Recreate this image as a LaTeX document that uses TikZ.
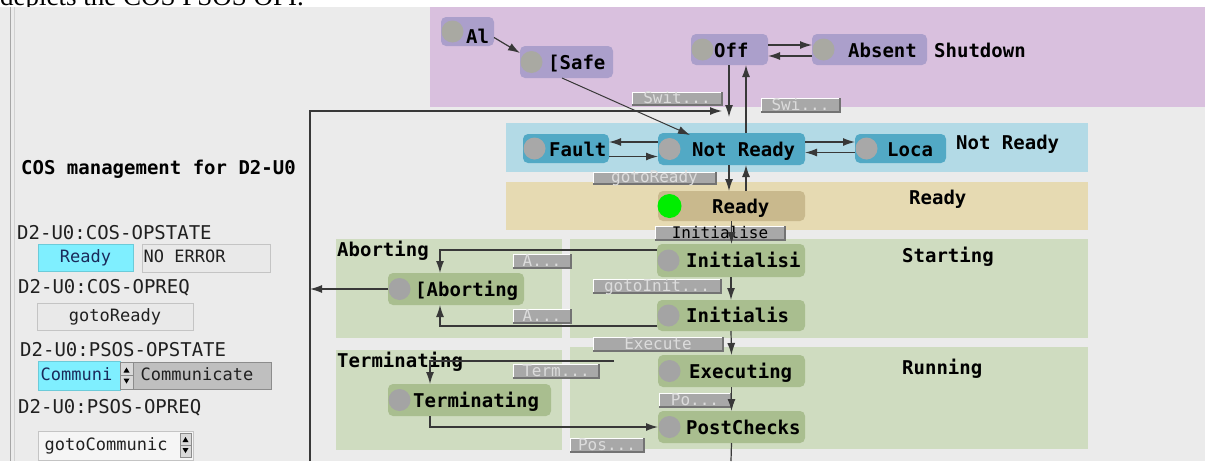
\documentclass[tikz,border=0pt]{standalone}
\usepackage{fontspec}
\setmonofont{DejaVu Sans Mono}
\newfontfamily\topserif{Liberation Serif}
\usetikzlibrary{arrows.meta}
\definecolor{bg}{HTML}{EBEBEB}
\definecolor{shreg}{HTML}{D9C0DE}
\definecolor{shnode}{HTML}{AB9FCB}
\definecolor{shcirc}{HTML}{A9A9A2}
\definecolor{nrreg}{HTML}{B3DAE6}
\definecolor{nrnode}{HTML}{52A9C5}
\definecolor{nrcirc}{HTML}{A8A8A8}
\definecolor{rdreg}{HTML}{E6DAB2}
\definecolor{rdnode}{HTML}{C9B98D}
\definecolor{gnreg}{HTML}{CFDCC0}
\definecolor{gnnode}{HTML}{A9BE8F}
\definecolor{gncirc}{HTML}{A4A4A4}
\definecolor{okgreen}{HTML}{00EE00}
\definecolor{cyanbox}{HTML}{7FEFFF}
\definecolor{btnfill}{HTML}{A8A8A8}
\definecolor{btntxt}{HTML}{DCDCDC}
\definecolor{lineclr}{HTML}{383838}
\definecolor{cellfill}{HTML}{E9E9E9}
\definecolor{cellborder}{HTML}{C4C4C4}
\definecolor{txtdark}{HTML}{202020}
\definecolor{navy}{HTML}{1A2A5A}
\newcommand\fbig{\ttfamily\bfseries\fontsize{19}{22}\selectfont}
\newcommand\freg{\ttfamily\fontsize{19}{22}\selectfont}
\newcommand\fcell{\ttfamily\fontsize{17}{20}\selectfont}
\newcommand\fbtn{\ttfamily\fontsize{16}{18}\selectfont}
% state box: name x1 y1 x2 y2 family textx baseline text
\newcommand\stbx[9]{%
  \node[stbox,#6,minimum width={(#4-#2)*1pt},minimum height={(#5-#3)*1pt}] (#1) at ({(#2+#4)/2},{(#3+#5)/2}) {};
  \fill[radius=11pt,#6-c] (#2+11.5,{(#3+#5)/2}) circle;
  \node[lbl] (#1-t) at (#7,#8) {#9};
}
% button: name x1 y1 x2 y2 text textcolor
\newcommand\btnx[7]{%
  \node[btnbox,minimum width={(#4-#2)*1pt},minimum height={(#5-#3)*1pt}] (#1) at ({(#2+#4)/2},{(#3+#5)/2}) {};
  \draw[white,line width=1pt] (#2,#5) -- (#2,#3) -- (#4,#3);
  \draw[black!55,line width=1.3pt] (#2,#5) -- (#4,#5) -- (#4,#3);
  \node[btntext,text=#7] (#1-t) at ({(#2+#4)/2},#5-1.5) {#6};
}
% spinner: name x1 y1 x2 y2
\newcommand\spinx[5]{%
  \node[draw=black!45,fill=black!15,inner sep=0pt,minimum width={(#4-#2)*1pt},minimum height={(#5-#3)*1pt}] (#1) at ({(#2+#4)/2},{(#3+#5)/2}) {};
  \draw[black!45,line width=0.6pt] (#2,{(#3+#5)/2}) -- (#4,{(#3+#5)/2});
  \fill[black] ({(#2+#4)/2-3},{(#3+#5)/2-3}) -- ({(#2+#4)/2+3},{(#3+#5)/2-3}) -- ({(#2+#4)/2},{(#3+#5)/2-8}) -- cycle;
  \fill[black] ({(#2+#4)/2-3},{(#3+#5)/2+3}) -- ({(#2+#4)/2+3},{(#3+#5)/2+3}) -- ({(#2+#4)/2},{(#3+#5)/2+8}) -- cycle;
}
\begin{document}
\begin{tikzpicture}[x=1pt,y=-1pt,
  arr/.style={draw=lineclr,line width=1.2pt,-{Latex[length=12pt,width=8pt]}},
  stbox/.style={rounded corners=5pt,inner sep=0pt,outer sep=0pt,draw=none},
  sh/.style={fill=shnode}, sh-c/.style={fill=shcirc},
  nrs/.style={fill=nrnode}, nrs-c/.style={fill=nrcirc},
  rd/.style={fill=rdnode}, rd-c/.style={fill=okgreen,radius=12pt},
  gn/.style={fill=gnnode}, gn-c/.style={fill=gncirc},
  lbl/.style={font=\fbig,text=black,inner sep=0pt,anchor=base west},
  plain/.style={font=\freg,text=txtdark,inner sep=0pt,anchor=base west},
  celltxt/.style={font=\fcell,inner sep=0pt,text height=12pt,text depth=3pt},
  cellbox/.style={inner sep=0pt,line width=1pt},
  btnbox/.style={fill=btnfill,inner sep=0pt,draw=none},
  btntext/.style={font=\fbtn,inner sep=0pt,anchor=base}]
\useasboundingbox (0,0) rectangle (1205,461);
\clip (0,0) rectangle (1205,461);
% top strip with cut caption
\fill[white] (0,0) rectangle (1205,7);
\node[font=\topserif\fontsize{27}{30}\selectfont,anchor=base west,inner sep=0pt] (cap) at (0,5.5) {depicts the COS PSOS OPI.};
\fill[bg] (0,7) rectangle (1205,461);
\draw[black!35,line width=1pt] (10,7) -- (10,461);
\draw[black!18,line width=1pt] (14.5,7) -- (14.5,461);
% regions
\fill[shreg] (430,7) rectangle (1205,107);
\fill[nrreg] (506,123) rectangle (1088,172);
\fill[rdreg] (506,182) rectangle (1088,230);
\fill[gnreg] (336,239) rectangle (562,338);
\fill[gnreg] (570,239) rectangle (1088,338);
\fill[gnreg] (336,350) rectangle (562,450);
\fill[gnreg] (570,347) rectangle (1088,449);
% region labels
\node[lbl] (lab-sh) at (934,57) {Shutdown};
\node[lbl] (lab-nr) at (956,149) {Not Ready};
\node[lbl] (lab-rd) at (909,204) {Ready};
\node[lbl] (lab-ab) at (337,256) {Aborting};
\node[lbl] (lab-st) at (902,262) {Starting};
\node[lbl] (lab-te) at (337,367) {Terminating};
\node[lbl] (lab-ru) at (902,374) {Running};
% buttons
\btnx{b-swit}{632}{92}{722}{105}{Swit...}{btntxt}
\btnx{b-swi}{761}{98}{840}{112}{Swi...}{btntxt}
\btnx{b-gotoready}{593}{172}{716}{184}{gotoReady}{btntxt}
\btnx{b-init}{655}{226}{785}{240}{Initialise}{black}
\btnx{b-a1}{513}{254}{571}{268}{A...}{btntxt}
\btnx{b-gotoinit}{593}{279}{721}{293}{gotoInit...}{btntxt}
\btnx{b-a2}{513}{309}{571}{323}{A...}{btntxt}
\btnx{b-exec}{593}{337}{723}{351}{Execute}{btntxt}
\btnx{b-term}{513}{364}{599}{378}{Term...}{btntxt}
\btnx{b-po}{659}{393}{731}{407}{Po...}{btntxt}
\btnx{b-pos}{570}{438}{644}{452}{Pos...}{btntxt}
% states
\stbx{al}{441}{17}{494}{46}{sh}{466}{43}{Al}
\stbx{safe}{520}{46}{613}{78}{sh}{548}{69}{[Safe}
\stbx{off}{691}{34}{768}{65}{sh}{714}{57}{Off}
\stbx{absent}{812}{34}{927}{65}{sh}{848}{57}{Absent}
\stbx{fault}{523}{134}{609}{163}{nrs}{549}{156}{Fault}
\stbx{nr}{658}{133}{805}{165}{nrs}{692}{156}{Not Ready}
\stbx{loca}{855}{134}{946}{163}{nrs}{887}{156}{Loca}
\stbx{ready}{658}{191}{805}{221}{rd}{712}{213}{Ready}
\stbx{ini1}{657}{244}{805}{277}{gn}{686}{267}{Initialisi}
\stbx{ini2}{657}{300}{805}{331}{gn}{686}{322}{Initialis}
\stbx{ab}{388}{273}{524}{305}{gn}{415}{296}{[Aborting}
\stbx{exe}{658}{355}{805}{387}{gn}{689}{378}{Executing}
\stbx{post}{658}{411}{805}{443}{gn}{686}{434}{PostChecks}
\stbx{term}{388}{384}{551}{416}{gn}{413}{407}{Terminating}
% free ends
\coordinate (offin) at (729,117);
\coordinate (busb) at (310,461);
\coordinate (busc) at (310,111);
\coordinate (busin) at (722,111);
\coordinate (postout) at (731,461);
\coordinate (termin) at (614,361);
% connectors
\draw[arr] ([yshift=-6pt]al.east) -- ([yshift=9pt]safe.west);
\draw[arr] ([yshift=4.5pt]off.east) -- ([yshift=4.5pt]off.east -| absent.west);
\draw[arr] ([yshift=-6.5pt]absent.west) -- ([yshift=-6.5pt]absent.west -| off.east);
\draw[arr] ([xshift=-0.5pt]off.south) -- (offin);
\draw[arr] ([xshift=14.5pt]nr.north) -- ([xshift=14.5pt]nr.north |- off.south);
\draw[arr,line width=1pt] ([xshift=-4.5pt]safe.south) -- ([xshift=-41.5pt,yshift=-2pt]nr.north);
\draw[arr] (busb) -- (busc) -- (busin);
\draw[arr] ([yshift=7pt]nr.west) -- ([yshift=7pt]nr.west -| fault.east);
\draw[arr] ([yshift=-8pt]fault.east) -- ([yshift=-8pt]fault.east -| nr.west);
\draw[arr] ([yshift=7pt]nr.east) -- ([yshift=7pt]nr.east -| loca.west);
\draw[arr] ([yshift=-4pt]loca.west) -- ([yshift=-4pt]loca.west -| nr.east);
\draw[arr] ([xshift=-2.5pt]nr.south) -- ([xshift=-2.5pt]nr.south |- ready.north);
\draw[arr] ([xshift=14.5pt]ready.north) -- ([xshift=14.5pt]ready.north |- nr.south);
\draw[arr] (ready.south) -- (ready.south |- ini1.north);
\draw[arr] (ini1.south) -- (ini2.north);
\draw[arr] (ini2.south) -- (exe.north);
\draw[arr] (exe.south) -- (post.north);
\draw[draw=lineclr,line width=1.2pt] (post.south) -- (postout);
\draw[arr] ([yshift=10.5pt]ini1.west) -| ([xshift=-16pt]ab.north);
\draw[arr] ([yshift=-10.5pt]ini2.west) -| ([xshift=-16pt]ab.south);
\draw[arr] (ab.west) -- (ab.west -| busc);
\draw[arr] (termin) -| ([xshift=-39.5pt]term.north);
\draw[arr] ([xshift=-39.5pt]term.south) |- (post.west);
% left panel
\node[lbl] (title) at (21,174) {COS management for D2-U0};
\node[plain] (p1) at (17,239) {D2-U0:COS-OPSTATE};
\node[cellbox,fill=cyanbox,draw=cyanbox!85!black,minimum width=95pt,minimum height=27pt] (c-ready) at (85.5,257.5) {};
\node[celltxt,text=navy] (c-ready-t) at (c-ready) {Ready};
\node[cellbox,fill=cellfill,draw=cellborder,minimum width=128pt,minimum height=28pt] (c-err) at (206,258) {};
\node[celltxt,text=txtdark,anchor=west] (c-err-t) at ([xshift=2pt]c-err.west) {NO ERROR};
\node[plain] (p2) at (18,293) {D2-U0:COS-OPREQ};
\node[cellbox,fill=cellfill,draw=cellborder,minimum width=156pt,minimum height=27pt] (c-req) at (115,316.5) {};
\node[celltxt,text=txtdark] (c-req-t) at (c-req) {gotoReady};
\node[plain] (p3) at (20,356) {D2-U0:PSOS-OPSTATE};
\node[cellbox,fill=cyanbox,draw=cyanbox!85!black,minimum width=82pt,minimum height=29pt] (c-comm) at (79,375.5) {};
\node[celltxt,text=navy,anchor=west] (c-comm-t) at ([xshift=3pt]c-comm.west) {Communi};
\spinx{sp1}{120}{362}{133}{389}
\node[cellbox,fill=black!25,draw=black!45,minimum width=138pt,minimum height=27pt] (c-commv) at (202,375.5) {};
\node[celltxt,text=txtdark,anchor=west] (c-commv-t) at ([xshift=8pt]c-commv.west) {Communicate};
\node[plain] (p4) at (18,413) {D2-U0:PSOS-OPREQ};
\node[cellbox,fill=black!4,draw=cellborder,minimum width=155pt,minimum height=29pt] (c-preq) at (115.5,445.5) {};
\node[celltxt,text=txtdark,anchor=west] (c-preq-t) at ([xshift=7pt]c-preq.west) {gotoCommunic};
\spinx{sp2}{180}{433}{191}{457}
\end{tikzpicture}
\end{document}
